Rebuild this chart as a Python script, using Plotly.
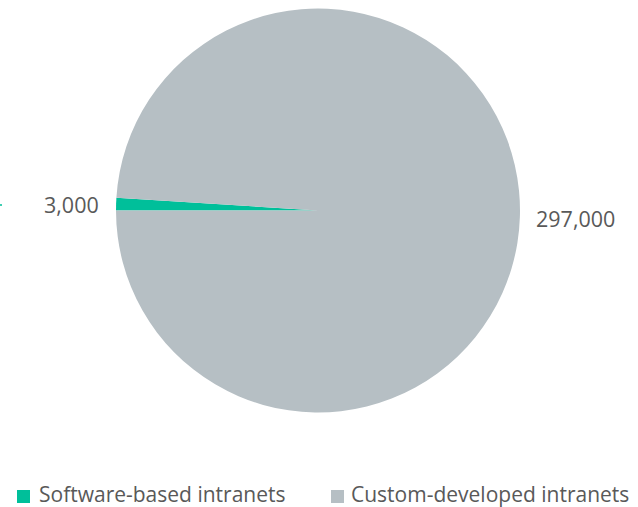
import plotly.graph_objects as go

# Intranet counts by type
categories = ["Software-based intranets", "Custom-developed intranets"]
values = [3000, 297000]
colors = ["#00BF9A", "#B6BFC4"]

W, H = 638, 507

fig = go.Figure(
    go.Pie(
        labels=categories,
        values=values,
        marker=dict(colors=colors, line=dict(width=0)),
        sort=False,
        direction="clockwise",
        rotation=270,
        textinfo="none",
        hoverinfo="label+value",
        showlegend=False,
        domain=dict(x=[116 / W, 520 / W], y=[1 - 413 / H, 1 - 8 / H]),
    )
)

text_font = dict(family="Open Sans, Noto Sans, sans-serif", size=21.5, color="#595959")
legend_font = dict(family="Open Sans, Noto Sans, sans-serif", size=21, color="#595959")


def px(x):
    return x / W


def py(y):
    return 1 - y / H


# Value labels beside the pie
fig.add_annotation(
    x=px(101), y=py(204), xref="paper", yref="paper",
    text=f"{values[0]:,}", showarrow=False, xanchor="right", yanchor="middle",
    font=text_font,
)
fig.add_annotation(
    x=px(534), y=py(218), xref="paper", yref="paper",
    text=f"{values[1]:,}", showarrow=False, xanchor="left", yanchor="middle",
    font=text_font,
)

# short teal leader stub at the left edge
fig.add_shape(
    type="line", xref="paper", yref="paper",
    x0=0, x1=px(2), y0=py(205), y1=py(205),
    line=dict(color=colors[0], width=1.5),
)

# Legend: colour swatch followed by the category name
legend_items = [(17, 37), (331, 349)]
for (sx, tx), name, col in zip(legend_items, categories, colors):
    fig.add_shape(
        type="rect", xref="paper", yref="paper",
        x0=px(sx), x1=px(sx + 13), y0=py(503), y1=py(490),
        fillcolor=col, line=dict(width=0),
    )
    fig.add_annotation(
        x=px(tx), y=py(494), xref="paper", yref="paper",
        text=name, showarrow=False, xanchor="left", yanchor="middle",
        font=legend_font,
    )

fig.update_layout(
    width=W,
    height=H,
    margin=dict(l=0, r=0, t=0, b=0),
    paper_bgcolor="white",
    plot_bgcolor="white",
    showlegend=False,
)

fig.write_html("out.html")
